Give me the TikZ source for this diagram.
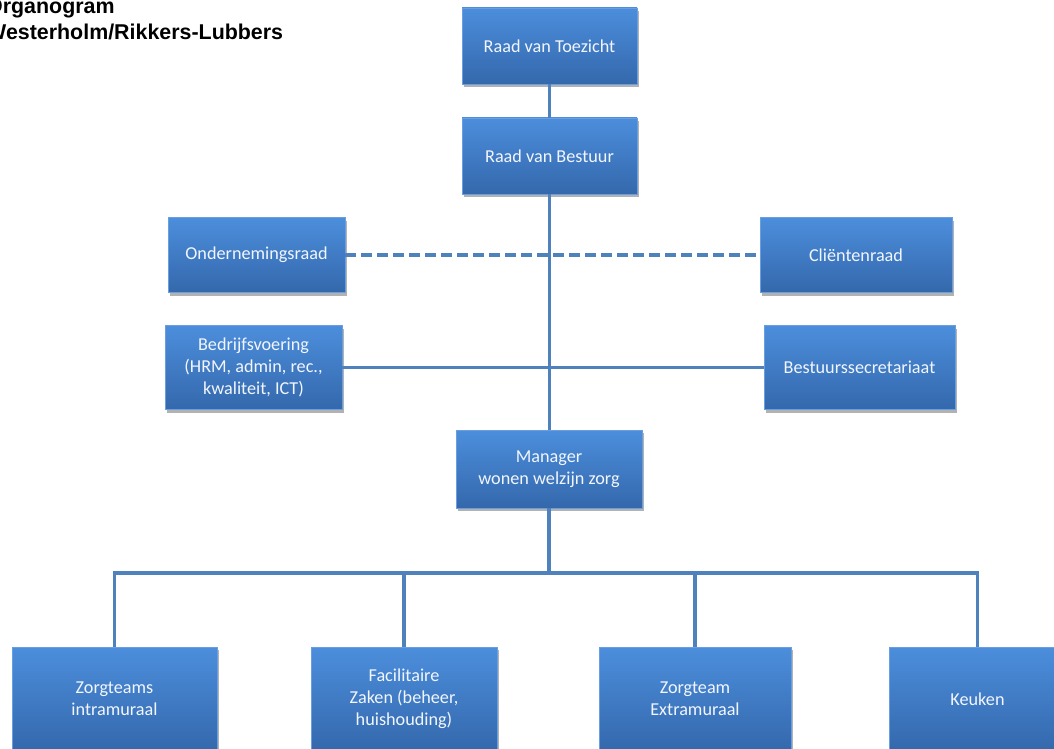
\documentclass[tikz,border=0pt]{standalone}
\usepackage{fontspec}
\setmainfont{Carlito}
\newfontfamily\titlefont{Liberation Sans}
\usetikzlibrary{shadows}
\definecolor{linecol}{RGB}{79,129,189}
\definecolor{boxtop}{RGB}{76,142,220}
\definecolor{boxbot}{RGB}{52,104,172}
\definecolor{boxedge}{RGB}{105,158,224}
\definecolor{boxtext}{RGB}{242,246,252}
\tikzset{
  orgbox/.style={rectangle, inner sep=2pt, align=center,
    top color=boxtop, bottom color=boxbot, draw=boxedge, line width=0.8pt,
    text=boxtext, font=\fontsize{18.2}{22}\selectfont,
    drop shadow={shadow xshift=2pt, shadow yshift=-3pt, opacity=0.3, fill=black}},
  conn/.style={draw=linecol, line width=3.3pt},
  dconn/.style={conn, dash pattern=on 11pt off 5pt},
  titletext/.style={anchor=base west, inner sep=0pt,
    font=\titlefont\bfseries\fontsize{21.4}{25}\selectfont}
}
\begin{document}
\begin{tikzpicture}[x=1pt,y=-1pt]
\useasboundingbox (0,0) rectangle (1054,749);
\clip (0,0) rectangle (1054,749);
\fill[white] (0,0) rectangle (1054,749);

\node[titletext] (t1) at (-14,13.5) {Organogram};
\node[titletext] (t2) at (-14,39.5) {Westerholm/Rikkers-Lubbers};

\coordinate (bar) at (549,573);

\node[orgbox, minimum width=175pt, minimum height=76pt] (rvt) at (549.5,46) {Raad van Toezicht};
\node[orgbox, minimum width=175pt, minimum height=76pt] (rvb) at (549.5,156) {Raad van Bestuur};
\node[orgbox, minimum width=177pt, minimum height=75pt] (or) at (256.5,255) {Ondernemingsraad};
\node[orgbox, minimum width=192pt, minimum height=75pt] (cr) at (856,255) {Cliëntenraad};
\node[orgbox, minimum width=177pt, minimum height=84pt] (bv) at (253.5,367.5) {Bedrijfsvoering\\(HRM, admin, rec.,\\kwaliteit, ICT)};
\node[orgbox, minimum width=191pt, minimum height=84pt] (bs) at (859.5,367.5) {Bestuurssecretariaat};
\node[orgbox, minimum width=186pt, minimum height=78pt] (mgr) at (549,469) {Manager\\wonen welzijn zorg};
\node[orgbox, minimum width=205pt, minimum height=104pt] (zi) at (114.5,699) {Zorgteams\\intramuraal};
\node[orgbox, minimum width=186pt, minimum height=104pt] (fz) at (404,699) {Facilitaire\\Zaken (beheer,\\huishouding)};
\node[orgbox, minimum width=192pt, minimum height=104pt] (ze) at (695,699) {Zorgteam\\Extramuraal};
\node[orgbox, minimum width=176pt, minimum height=104pt] (kk) at (977.5,699) {Keuken};

\draw[conn] (rvt.south) -- (rvt.south |- rvb.north);
\draw[conn] (rvb.south) -- (rvb.south |- mgr.north);
\draw[dconn] (or.east) -- (or.east -| cr.west);
\draw[conn] (bv.east) -- (bv.east -| bs.west);
\draw[conn] (mgr.south) -- (mgr.south |- bar);
\draw[conn] (zi.north) |- (bar) -| (kk.north);
\draw[conn] (fz.north) -- (fz.north |- bar);
\draw[conn] (ze.north) -- (ze.north |- bar);
\end{tikzpicture}
\end{document}
